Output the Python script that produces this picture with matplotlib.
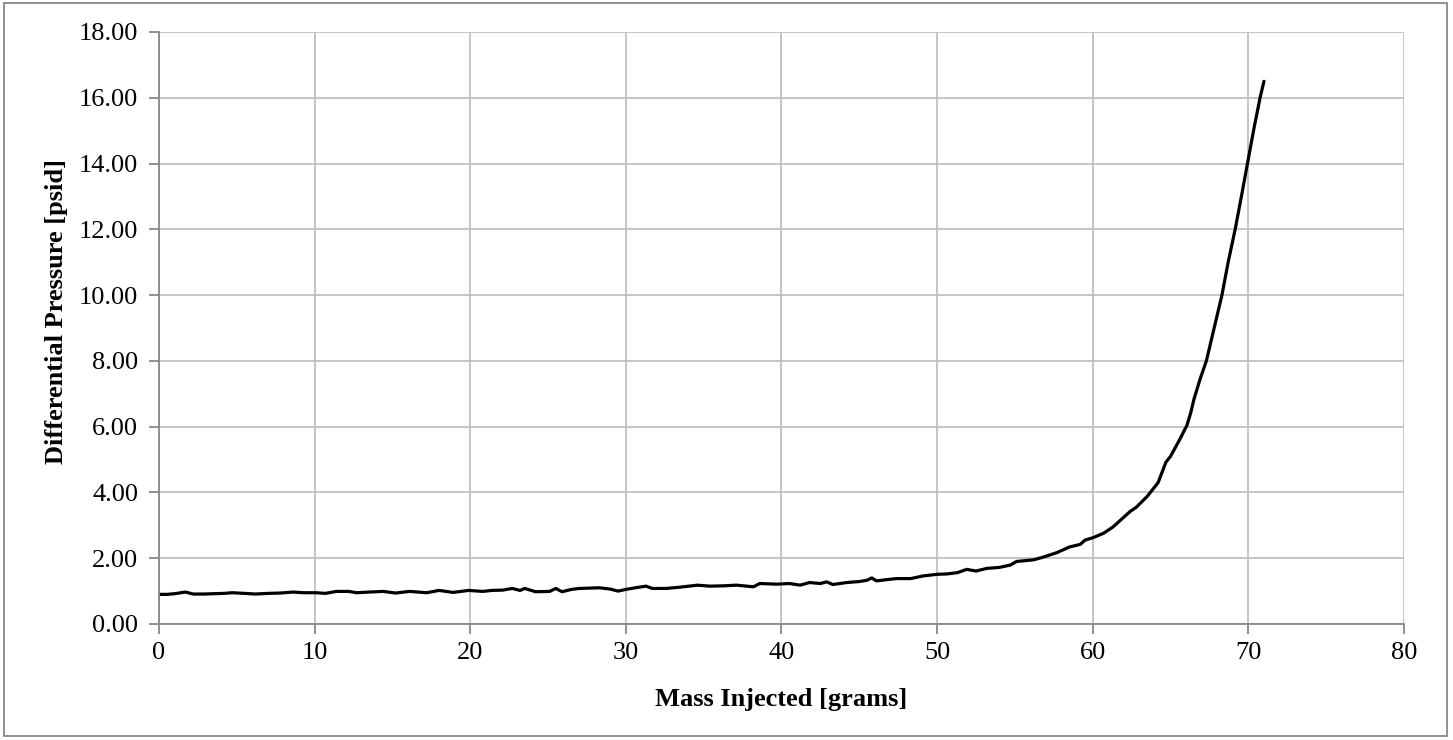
import matplotlib.pyplot as plt
from matplotlib.patches import Rectangle

# mass injected [g] and differential pressure [psid]
mass_g = [
    0.0, 0.5, 1.0, 1.7, 2.2, 2.9, 3.5, 4.2, 4.7, 5.5, 6.2, 7.0, 7.8, 8.6, 9.3,
    10.1, 10.7, 11.4, 12.2, 12.7, 13.5, 14.4, 15.2, 16.1, 17.2, 18.0, 18.9,
    19.9, 20.8, 21.4, 22.1, 22.7, 23.2, 23.5, 24.2, 25.1, 25.5, 25.9, 26.5,
    27.0, 28.3, 29.0, 29.5, 30.0, 30.6, 31.3, 31.7, 32.6, 33.5, 34.6, 35.4,
    36.3, 37.1, 38.2, 38.6, 39.7, 40.5, 41.2, 41.8, 42.5, 42.9, 43.3, 44.2,
    45.0, 45.5, 45.8, 46.1, 46.8, 47.4, 48.3, 49.1, 50.0, 50.6, 51.3, 51.9,
    52.5, 53.2, 54.0, 54.7, 55.1, 56.2, 56.8, 57.7, 58.5, 59.2, 59.5, 60.0,
    60.7, 61.3, 62.4, 62.8, 63.5, 64.2, 64.7, 65.0, 65.6, 66.05, 66.3, 66.5,
    66.9, 67.3, 67.8, 68.3, 68.7, 69.15, 69.55, 69.94, 70.35, 70.75, 71.0,
]
dp_psid = [
    0.90, 0.90, 0.92, 0.97, 0.91, 0.91, 0.92, 0.93, 0.95, 0.93, 0.91, 0.93,
    0.94, 0.97, 0.95, 0.95, 0.93, 0.99, 0.99, 0.95, 0.97, 0.99, 0.94, 0.99,
    0.95, 1.02, 0.96, 1.02, 0.99, 1.02, 1.03, 1.08, 1.02, 1.08, 0.98, 0.99,
    1.08, 0.98, 1.05, 1.08, 1.10, 1.06, 1.00, 1.05, 1.10, 1.15, 1.08, 1.08,
    1.12, 1.18, 1.15, 1.16, 1.18, 1.13, 1.23, 1.21, 1.23, 1.18, 1.26, 1.23,
    1.28, 1.20, 1.26, 1.29, 1.33, 1.40, 1.31, 1.35, 1.38, 1.38, 1.46, 1.51,
    1.52, 1.56, 1.66, 1.61, 1.69, 1.72, 1.79, 1.90, 1.95, 2.03, 2.17, 2.34,
    2.42, 2.55, 2.62, 2.76, 2.95, 3.42, 3.55, 3.88, 4.30, 4.92, 5.10, 5.62,
    6.04, 6.43, 6.83, 7.45, 8.00, 9.00, 10.00, 11.00, 12.00, 13.00, 14.00,
    15.05, 16.00, 16.50,
]

x_ticks = list(range(0, 81, 10))
y_ticks = list(range(0, 19, 2))

plt.rcParams['font.family'] = ['Liberation Serif', 'DejaVu Serif']

fig = plt.figure(figsize=(14.53, 7.40), dpi=100)
ax = fig.add_axes([0.1094, 0.1568, 0.8569, 0.8000])

ax.plot(mass_g, dp_psid, color='black', linewidth=2.3,
        solid_capstyle='round', solid_joinstyle='round')

ax.set_xlim(0, 80)
ax.set_ylim(0, 18)
ax.set_xticks(x_ticks)
ax.set_yticks(y_ticks)
ax.set_yticklabels([f'{v:.2f}' for v in y_ticks])

ax.grid(True, color='#c0c0c0', linewidth=1.3)
ax.set_axisbelow(True)
for side in ['top', 'right']:
    ax.spines[side].set_visible(False)
for side in ['left', 'bottom']:
    ax.spines[side].set_color('#888888')
    ax.spines[side].set_linewidth(1.3)
ax.tick_params(axis='both', direction='out', length=7, width=1.3,
               color='#888888', labelsize=19, labelcolor='black')
ax.tick_params(axis='x', pad=6)
ax.tick_params(axis='y', pad=8)

ax.set_xlabel('Mass Injected [grams]', fontsize=19, fontweight='bold')
ax.set_ylabel('Differential Pressure [psid]', fontsize=19, fontweight='bold')
ax.xaxis.set_label_coords(0.5, -0.128)
ax.yaxis.set_label_coords(-0.082, 0.527)
ax.xaxis.label.set_va('center')
ax.yaxis.label.set_va('center')

# chart frame around the whole figure
fig.patches.append(Rectangle((0.003, 0.005), 0.993, 0.991, transform=fig.transFigure,
                             fill=False, edgecolor='#888888', linewidth=1.3))

fig.savefig('out.png', dpi=100)
